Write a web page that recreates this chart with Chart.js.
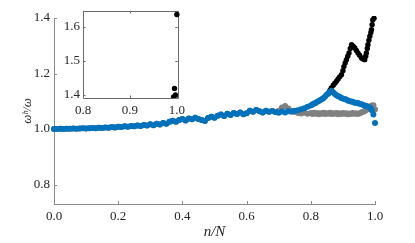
<!DOCTYPE html>
<html>
<head>
<meta charset="utf-8">
<script src="https://cdn.jsdelivr.net/npm/chart.js@4"></script>
<style>
  body { margin: 0; background: #fff; }
  #wrap { position: relative; width: 415px; height: 243px; }
  #main { position: absolute; left: 0; top: 0; }
  #inset { position: absolute; left: 50px; top: 0; }
</style>
</head>
<body>
<div id="wrap">
  <canvas id="main" width="415" height="243"></canvas>
  <canvas id="inset" width="140" height="118"></canvas>
</div>
<script>
// n/N grid
const nN = [0,0.01,0.02,0.03,0.04,0.05,0.06,0.07,0.08,0.09,
  0.10,0.11,0.12,0.13,0.14,0.15,0.16,0.17,0.18,0.19,
  0.20,0.21,0.22,0.23,0.24,0.25,0.26,0.27,0.28,0.29,
  0.30,0.31,0.32,0.33,0.34,0.35,0.36,0.37,0.38,0.39,
  0.40,0.41,0.42,0.43,0.44,0.45,0.46,0.47,0.48,0.49,
  0.50,0.51,0.52,0.53,0.54,0.55,0.56,0.57,0.58,0.59,
  0.60,0.61,0.62,0.63,0.64,0.65,0.66,0.67,0.68,0.69,
  0.70,0.71,0.72,0.73,0.74,0.75,0.76,0.77,0.78,0.79,0.80,
  0.805,0.81,0.815,0.82,0.825,0.83,0.835,0.84,0.845,0.85,
  0.855,0.86,0.865,0.87,0.875,0.88,0.885,0.89,0.895,0.90,
  0.905,0.91,0.915,0.92,0.925,0.93,0.935,0.94,0.945,0.95,
  0.955,0.96,0.965,0.97,0.975,0.98,0.985,0.99,0.995,1.0];

const blueW = [1.000,1.000,1.001,1.000,1.001,1.001,1.002,1.001,1.002,1.003,
  1.002,1.003,1.004,1.003,1.005,1.004,1.006,1.005,1.007,1.006,
  1.008,1.007,1.010,1.008,1.011,1.010,1.013,1.011,1.015,1.013,
  1.017,1.014,1.019,1.016,1.022,1.019,1.026,1.030,1.026,1.033,
  1.036,1.031,1.038,1.035,1.041,1.036,1.033,1.029,1.040,1.044,
  1.041,1.048,1.052,1.047,1.055,1.051,1.058,1.054,1.060,1.053,
  1.057,1.066,1.062,1.069,1.064,1.060,1.066,1.062,1.065,1.061,
  1.059,1.063,1.060,1.064,1.062,1.066,1.068,1.071,1.075,1.080,1.085,
  1.088,1.092,1.094,1.098,1.101,1.105,1.108,1.112,1.118,1.124,
  1.128,1.134,1.138,1.132,1.126,1.122,1.118,1.116,1.112,1.110,
  1.108,1.106,1.103,1.101,1.099,1.098,1.096,1.094,1.095,1.092,
  1.090,1.088,1.086,1.084,1.082,1.080,1.076,1.068,1.052,1.022];

const grayW = [1.000,1.000,1.001,1.000,1.001,1.001,1.002,1.001,1.002,1.003,
  1.002,1.003,1.004,1.003,1.005,1.004,1.006,1.005,1.007,1.006,
  1.008,1.007,1.010,1.008,1.011,1.010,1.013,1.011,1.015,1.013,
  1.017,1.014,1.019,1.016,1.022,1.019,1.026,1.030,1.026,1.033,
  1.036,1.031,1.038,1.035,1.041,1.036,1.033,1.029,1.040,1.044,
  1.041,1.048,1.052,1.047,1.055,1.051,1.058,1.054,1.060,1.053,
  1.057,1.066,1.062,1.069,1.064,1.060,1.066,1.062,1.065,1.061,
  1.066,1.078,1.083,1.074,1.066,1.061,1.058,1.056,1.059,1.055,1.058,
  1.054,1.059,1.055,1.058,1.053,1.057,1.055,1.059,1.054,1.057,
  1.055,1.059,1.054,1.057,1.055,1.058,1.053,1.057,1.054,1.058,
  1.055,1.057,1.053,1.056,1.054,1.058,1.055,1.057,1.054,1.056,
  1.058,1.061,1.063,1.066,1.070,1.075,1.080,1.085,1.086,1.070];

const blackN = [0.855,0.86,0.864,0.87,0.875,0.88,0.885,0.89,0.8955,0.90,
  0.903,0.907,0.911,0.915,0.919,0.923,0.927,0.932,0.937,0.942,
  0.947,0.952,0.958,0.963,0.968,0.971,0.973,0.976,0.978,0.981,
  0.984,0.987,0.989,0.991,0.993,0.995,0.997,1.0];
const blackW = [1.130,1.140,1.148,1.158,1.165,1.172,1.180,1.188,1.196,1.210,
  1.225,1.238,1.250,1.262,1.274,1.290,1.304,1.298,1.292,1.283,
  1.274,1.266,1.256,1.252,1.250,1.262,1.274,1.290,1.304,1.320,
  1.334,1.348,1.358,1.376,1.393,1.418,1.399,1.637];

const xTicks = [0, 0.2, 0.4, 0.6, 0.8, 1.0];
const yTicks = [0.8, 1.0, 1.2, 1.4];
const insetXTicks = [0.8, 0.9, 1.0];
const insetYTicks = [1.4, 1.5, 1.6];

const serif = "'Liberation Serif', 'DejaVu Serif', serif";
Chart.defaults.font.family = serif;
Chart.defaults.color = '#262626';

const pts = (xs, ys) => xs.map((x, i) => ({x: x, y: ys[i]}));

// matlab style ticks pointing inwards, drawn under the data
const inTicks = {
  id: 'inTicks',
  beforeDatasetsDraw(chart, args, opts) {
    const {ctx, chartArea: a, scales: {x, y}} = chart;
    ctx.save();
    ctx.strokeStyle = opts.color;
    ctx.lineWidth = 1;
    ctx.beginPath();
    if (opts.box) {
      ctx.rect(Math.round(a.left) + 0.5, Math.round(a.top) + 0.5,
        Math.round(a.right - a.left), Math.round(a.bottom - a.top));
    }
    x.ticks.forEach(t => {
      const px = Math.round(x.getPixelForValue(t.value)) + 0.5;
      ctx.moveTo(px, a.bottom);
      ctx.lineTo(px, a.bottom - opts.len);
      if (opts.box) {
        ctx.moveTo(px, a.top);
        ctx.lineTo(px, a.top + opts.len);
      }
    });
    y.ticks.forEach(t => {
      const py = Math.round(y.getPixelForValue(t.value)) + 0.5;
      ctx.moveTo(a.left, py);
      ctx.lineTo(a.left + opts.len, py);
      if (opts.box) {
        ctx.moveTo(a.right, py);
        ctx.lineTo(a.right - opts.len, py);
      }
    });
    ctx.stroke();
    ctx.restore();
  }
};

const dot = (color, data, r) => ({
  data: data,
  backgroundColor: color,
  borderWidth: 0,
  pointRadius: r,
  pointHoverRadius: r,
  clip: {left: 4, right: 4, top: 2, bottom: 4}
});

// first dataset is drawn on top: blue, then black, gray at the back
new Chart(document.getElementById('main'), {
  type: 'scatter',
  data: {
    datasets: [
      dot('#0072BD', pts(nN, blueW), 3),
      dot('#000000', pts(blackN, blackW), 2.7),
      dot('#808080', pts(nN, grayW), 3)
    ]
  },
  options: {
    responsive: false,
    animation: false,
    layout: {padding: {top: 18, right: 40, left: 0, bottom: 0}},
    plugins: {
      legend: {display: false},
      tooltip: {enabled: false},
      inTicks: {color: '#8a8a8a', len: 3, box: false}
    },
    scales: {
      x: {
        type: 'linear', min: 0, max: 1,
        afterFit: s => { s.height = 39; },
        afterBuildTicks: s => { s.ticks = xTicks.map(v => ({value: v})); },
        grid: {display: false, drawTicks: false},
        border: {display: true, color: '#8a8a8a', width: 1},
        ticks: {font: {size: 13}, padding: 5, maxRotation: 0, autoSkip: false,
          callback: v => v.toFixed(1)},
        title: {display: true, text: 'n/N', font: {size: 15, style: 'italic'},
          padding: {top: 0, bottom: 2}}
      },
      y: {
        type: 'linear', min: 0.73, max: 1.4,
        afterFit: s => { s.width = 54; },
        afterBuildTicks: s => { s.ticks = yTicks.map(v => ({value: v})); },
        grid: {display: false, drawTicks: false},
        border: {display: true, color: '#8a8a8a', width: 1},
        ticks: {font: {size: 13}, padding: 4, callback: v => v.toFixed(1)},
        title: {display: true, text: 'ωʰ/ω', font: {size: 13, style: 'italic'},
          padding: {top: 20, bottom: 0}}
      }
    }
  },
  plugins: [inTicks]
});

new Chart(document.getElementById('inset'), {
  type: 'scatter',
  data: {
    datasets: [
      {...dot('#000000', pts(blackN, blackW), 2.7), clip: {left: 3, right: 3, top: 3, bottom: 0}}
    ]
  },
  options: {
    responsive: false,
    animation: false,
    layout: {padding: {top: 2, right: 2, left: 0, bottom: 0}},
    plugins: {
      legend: {display: false},
      tooltip: {enabled: false},
      inTicks: {color: '#6a6a6a', len: 2.5, box: true}
    },
    scales: {
      x: {
        type: 'linear', min: 0.8, max: 1.002,
        afterFit: s => { s.height = 20; },
        afterBuildTicks: s => { s.ticks = insetXTicks.map(v => ({value: v})); },
        grid: {display: false, drawTicks: false},
        border: {display: false},
        ticks: {font: {size: 13}, padding: 5, maxRotation: 0, autoSkip: false,
          callback: v => v.toFixed(1)}
      },
      y: {
        type: 'linear', min: 1.39, max: 1.648,
        afterFit: s => { s.width = 33; },
        afterBuildTicks: s => { s.ticks = insetYTicks.map(v => ({value: v})); },
        grid: {display: false, drawTicks: false},
        border: {display: false},
        ticks: {font: {size: 13}, padding: 3, callback: v => v.toFixed(1)}
      }
    }
  },
  plugins: [inTicks]
});
</script>
</body>
</html>
